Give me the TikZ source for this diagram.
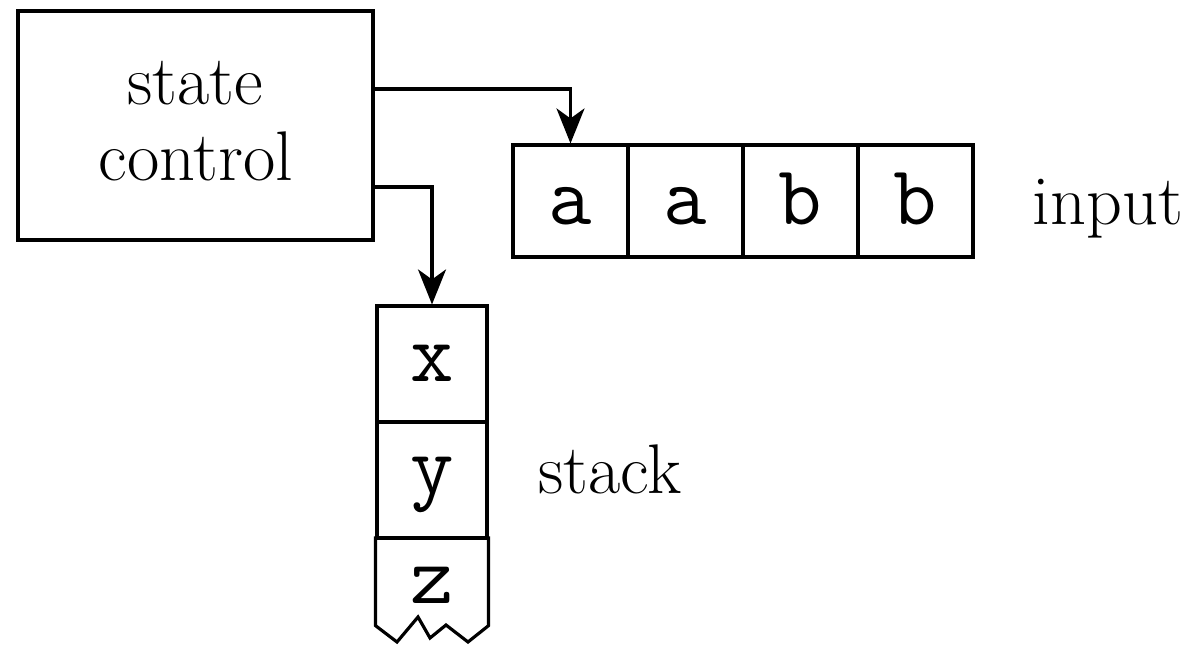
\documentclass[tikz,border=0pt]{standalone}
\usepackage{fontspec}
\usetikzlibrary{arrows.meta}
\begin{document}
\begin{tikzpicture}[x=0.02cm,y=-0.02cm, line width=1.8pt,
  lbl/.style={inner sep=0pt, font=\fontsize{40}{43}\selectfont},
  cell/.style={draw, minimum width=2.3cm, minimum height=2.24cm, inner sep=0pt,
    font=\fontsize{48}{50}\selectfont\ttfamily, text height=27pt, text depth=0pt},
  scell/.style={minimum width=2.2cm, minimum height=2.32cm, inner sep=0pt,
    font=\fontsize{48}{50}\selectfont\ttfamily, text depth=0pt},
  arr/.style={-{Stealth[length=0.7cm,width=0.56cm,inset=0.2cm]}}]
\useasboundingbox (0,0) rectangle (1203,645);

% state control box
\node[draw, minimum width=7.1cm, minimum height=4.58cm, inner sep=0pt] (ctrl) at (195.5,125.5) {};
\node[lbl, anchor=base] (st) at (195,105) {state};
\node[lbl, anchor=base] (co) at (196,181) {control};

% input tape
\node[cell] (c1) at (570.5,201) {a};
\node[cell] (c2) at (685.5,201) {a};
\node[cell] (c3) at (800.5,201) {b};
\node[cell] (c4) at (915.5,201) {b};
\node[lbl, anchor=base] (inp) at (1108,225) {input};

% stack
\node[scell, draw, text height=20pt] (s1) at (432,364) {x};
\node[scell, draw, text height=15pt] (s2) at (432,480) {y};
\node[scell, minimum height=1.72cm, text height=26pt] (s3) at (432,581) {z};
\draw[line join=miter] (s3.north west) -- (s3.south west) -- (397,642) -- (418,617) -- (430,638)
  -- (446,625) -- (468,642) -- (s3.south east) -- (s3.north east);
\node[lbl, anchor=base] (stk) at (610,493) {stack};

% connectors
\draw[arr] (ctrl.east |- 0,89) -| (c1.north);
\draw[arr] (ctrl.east |- 0,187) -| (s1.north);
\end{tikzpicture}
\end{document}
